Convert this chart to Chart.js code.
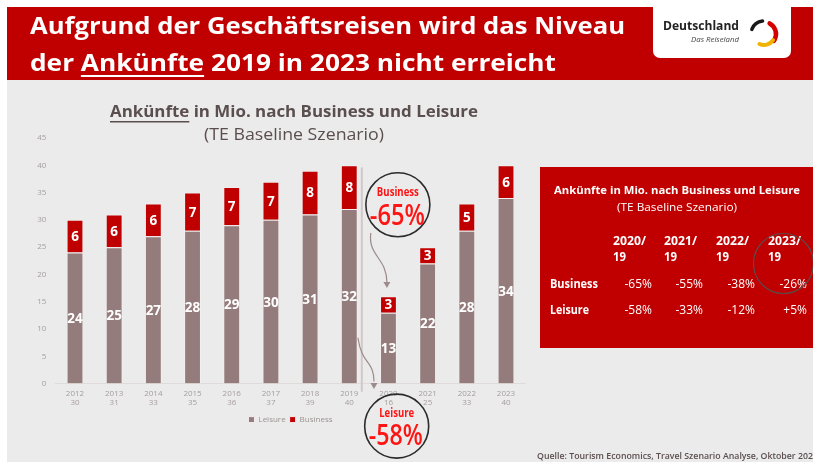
<!DOCTYPE html>
<html>
<head>
<meta charset="utf-8">
<script src="https://cdn.jsdelivr.net/npm/chart.js@4.4.0/dist/chart.umd.min.js"></script>
<style>
html, body { margin: 0; padding: 0; background: #fff; }
canvas { display: block; }
</style>
</head>
<body>
<canvas id="myChart" width="813" height="462"></canvas>
<script>
// données (Ankünfte in Mio.)
const years = ['2012','2013','2014','2015','2016','2017','2018','2019','2020','2021','2022','2023']
const totals = ['30','31','33','35','36','37','39','40','16','25','33','40']
const leisure = [24,25,27,28,29,30,31,32,13,22,28,34]
const business = [6,6,6,7,7,7,8,8,3,3,5,6]

// tableau de droite
const tableHeads = ['2020/','2021/','2022/','2023/']
const businessChange = ['-65%','-55%','-38%','-26%']
const leisureChange = ['-58%','-33%','-12%','+5%']

const F = '"Open Sans", "DejaVu Sans", sans-serif'
const RED = '#c00000'
const BRIGHT = '#ff1414'
const GREYTXT = '#5b4e4e'

Chart.defaults.font.family = F

//************ texte étiré à une largeur donnée (police Calibri absente) ************//
function fitText(ctx, s, x, y, w, align) {
    const m = ctx.measureText(s).width
    const k = w / m
    ctx.save()
    ctx.translate(x, y)
    ctx.scale(k, 1)
    ctx.textAlign = align || 'left'
    ctx.fillText(s, 0, 0)
    ctx.restore()
    return k
}

function circle(ctx, x, y, r, color, lw) {
    ctx.beginPath()
    ctx.arc(x, y, r, 0, Math.PI * 2)
    ctx.strokeStyle = color
    ctx.lineWidth = lw
    ctx.stroke()
}

function arrow(ctx, pts, color) {
    // pts : start, c1, c2, end, tip
    ctx.strokeStyle = color
    ctx.fillStyle = color
    ctx.lineWidth = 1.2
    ctx.beginPath()
    ctx.moveTo(pts[0][0], pts[0][1])
    ctx.bezierCurveTo(pts[1][0], pts[1][1], pts[2][0], pts[2][1], pts[3][0], pts[3][1])
    ctx.stroke()
    const tip = pts[4]
    ctx.beginPath()
    ctx.moveTo(tip[0], tip[1])
    ctx.lineTo(tip[0] - 3.5, tip[1] - 6)
    ctx.lineTo(tip[0] + 3.5, tip[1] - 6)
    ctx.closePath()
    ctx.fill()
}

//************ fond + bandeau ************//
const backgroundPlugin = {
    id: 'background',
    beforeDraw(chart) {
        const ctx = chart.ctx
        ctx.save()
        ctx.fillStyle = '#fff'
        ctx.fillRect(0, 0, chart.width, chart.height)
        ctx.fillStyle = '#ebebeb'
        ctx.fillRect(7, 80, 806, 382)
        ctx.fillStyle = RED
        ctx.fillRect(7, 7, 806, 73)
        ctx.restore()
    }
}

//************ valeurs dans les barres ************//
const barLabelsPlugin = {
    id: 'barLabels',
    afterDatasetsDraw(chart) {
        const ctx = chart.ctx
        ctx.save()
        ctx.font = 'bold 13.5px ' + F
        ctx.fillStyle = '#fff'
        ctx.textAlign = 'center'
        ctx.textBaseline = 'middle'
        chart.data.datasets.forEach((ds, i) => {
            chart.getDatasetMeta(i).data.forEach((bar, j) => {
                ctx.fillText(ds.data[j], bar.x, (bar.y + bar.base) / 2 + 1)
            })
        })
        ctx.restore()
    }
}

//************ titres, cercles, flèches, tableau ************//
const decorPlugin = {
    id: 'decor',
    afterDraw(chart) {
        const ctx = chart.ctx
        const xs = chart.scales.x
        const ys = chart.scales.y
        const P = (xv, yv) => [xs.getPixelForValue(xv), ys.getPixelForValue(yv)]
        ctx.save()
        ctx.textBaseline = 'alphabetic'

        // titre du bandeau
        ctx.fillStyle = '#fff'
        ctx.font = 'bold 24px ' + F
        fitText(ctx, 'Aufgrund der Geschäftsreisen wird das Niveau', 30, 34, 595)
        const l2 = 'der Ankünfte 2019 in 2023 nicht erreicht'
        const k2 = fitText(ctx, l2, 30, 71, 526)
        const u0 = 30 + ctx.measureText('der ').width * k2
        const u1 = u0 + ctx.measureText('Ankünfte').width * k2
        ctx.fillRect(u0, 75, u1 - u0, 2)

        // logo
        ctx.fillStyle = '#fff'
        ctx.beginPath()
        ctx.roundRect(653, 0, 138, 58, [0, 0, 7, 7])
        ctx.fill()
        ctx.fillStyle = '#222'
        ctx.font = 'bold 13px ' + F
        fitText(ctx, 'Deutschland', 663, 30, 76)
        ctx.fillStyle = '#444'
        ctx.font = 'italic 7px ' + F
        fitText(ctx, 'Das Reiseland', 739, 42, 48, 'right')
        ctx.lineCap = 'round'
        const sw = [[3.5, 4.6, '#1a1a1a', 3.5, 13], [5.2, 6.9, '#d40000', 4.5, 12], [0.6, 2.0, '#f0b400', 4, 11]]
        sw.forEach(a => {
            ctx.beginPath()
            ctx.arc(764, 34, a[4], a[0], a[1])
            ctx.strokeStyle = a[2]
            ctx.lineWidth = a[3]
            ctx.stroke()
        })
        ctx.lineCap = 'butt'

        // titre du graphique
        const cx = 294
        ctx.fillStyle = GREYTXT
        ctx.font = 'bold 16px ' + F
        const t1 = 'Ankünfte in Mio. nach Business und Leisure'
        const kt = fitText(ctx, t1, cx, 117, 368, 'center')
        const tl = cx - 184
        ctx.fillRect(tl, 121, ctx.measureText('Ankünfte').width * kt, 1.5)
        ctx.font = '17px ' + F
        fitText(ctx, '(TE Baseline Szenario)', cx, 140, 180, 'center')

        // séparateur 2019 / 2020
        const d0 = P(7.32, 39.6), d1 = P(7.32, -1.5)
        ctx.strokeStyle = '#d3c8c8'
        ctx.lineWidth = 2
        ctx.beginPath()
        ctx.moveTo(d0[0], d0[1])
        ctx.lineTo(d1[0], d1[1])
        ctx.stroke()

        // cercle Business
        const bc = P(8.24, 32.77)
        circle(ctx, bc[0], bc[1], 32, '#2b2b2b', 1.6)
        ctx.fillStyle = BRIGHT
        ctx.font = 'bold 12.5px ' + F
        fitText(ctx, 'Business', bc[0], P(0, 34.4)[1], 42, 'center')
        ctx.font = '600 28px ' + F
        fitText(ctx, '-65%', bc[0] - 0.5, P(0, 29.1)[1], 55, 'center')

        // cercle Leisure
        const lc = P(8.21, -7.8)
        circle(ctx, lc[0], lc[1], 32, '#2b2b2b', 1.6)
        ctx.fillStyle = BRIGHT
        ctx.font = 'bold 12.5px ' + F
        fitText(ctx, 'Leisure', lc[0], P(0, -6.1)[1], 35, 'center')
        ctx.font = '600 28px ' + F
        fitText(ctx, '-58%', lc[0] - 1, P(0, -11.3)[1], 54, 'center')

        // flèches
        arrow(ctx, [P(7.55, 27.6), P(7.47, 23.4), P(7.96, 23.0), P(7.96, 18.6), P(7.96, 17.5)], '#9d8b8b')
        arrow(ctx, [P(7.22, 8.4), P(7.32, 3.4), P(7.63, 4.3), P(7.63, 0.4), P(7.63, -1.0)], '#9d8b8b')

        // tableau de droite
        ctx.fillStyle = RED
        ctx.fillRect(540, 167, 273, 181)
        ctx.fillStyle = '#fff'
        ctx.font = 'bold 11px ' + F
        fitText(ctx, 'Ankünfte in Mio. nach Business und Leisure', 677, 194, 246, 'center')
        ctx.font = '11px ' + F
        fitText(ctx, '(TE Baseline Szenario)', 677, 211, 120, 'center')
        const colX = [613, 664, 716, 768]
        const valX = [652, 703, 755, 807]
        ctx.font = 'bold 12px ' + F
        tableHeads.forEach((h, i) => {
            fitText(ctx, h, colX[i], 245, 33)
            fitText(ctx, '19', colX[i], 261, 13)
        })
        fitText(ctx, 'Business', 550, 288, 48)
        fitText(ctx, 'Leisure', 550, 314, 39)
        ctx.font = '12px ' + F
        businessChange.forEach((v, i) => {
            ctx.textAlign = 'right'
            ctx.fillText(v, valX[i], 288)
        })
        leisureChange.forEach((v, i) => {
            ctx.textAlign = 'right'
            ctx.fillText(v, valX[i], 314)
        })
        circle(ctx, 783.5, 263.5, 30, '#5a4a4a', 1.2)

        // source
        ctx.fillStyle = GREYTXT
        ctx.font = '600 9px ' + F
        const src = 'Quelle: Tourism Economics, Travel Szenario Analyse, Oktober 2020'
        const ks = 276 / ctx.measureText(src.slice(0, -1)).width
        ctx.save()
        ctx.translate(537, 459)
        ctx.scale(ks, 1)
        ctx.textAlign = 'left'
        ctx.fillText(src, 0, 0)
        ctx.restore()

        ctx.restore()
    }
}

let ctx = document.getElementById('myChart')
let myChart = new Chart(ctx, {
    type: 'bar',
    data: {
        labels: years.map((y, i) => [y, totals[i]]),
        datasets: [
            {
                label: 'Leisure',
                data: leisure,
                backgroundColor: '#957c7c',
                borderColor: '#f3eeee',
                borderWidth: 1,
                barPercentage: 0.43,
                categoryPercentage: 1
            },
            {
                label: 'Business',
                data: business,
                backgroundColor: RED,
                borderColor: '#f3eeee',
                borderWidth: 1,
                barPercentage: 0.43,
                categoryPercentage: 1
            }
        ]
    },
    options: {
        responsive: false,
        animation: false,
        layout: { padding: { left: 7, top: 138, right: 287.4, bottom: 28.4 } },
        scales: {
            x: {
                stacked: true,
                grid: { display: false, drawTicks: false },
                border: { color: '#e0dbdb' },
                ticks: { color: '#a69e9e', font: { size: 8 }, padding: 5, maxRotation: 0 },
                afterFit(scale) { scale.height = 28 }
            },
            y: {
                stacked: true,
                min: 0,
                max: 45,
                grid: { display: false, drawTicks: false },
                border: { display: false },
                ticks: { stepSize: 5, color: '#a69e9e', font: { size: 8 }, padding: 9 },
                afterFit(scale) { scale.width = 48.4 }
            }
        },
        plugins: {
            legend: {
                position: 'bottom',
                fullSize: false,
                labels: { boxWidth: 6, boxHeight: 6, font: { size: 8 }, color: '#9a9292', padding: 4 }
            },
            tooltip: { enabled: false }
        }
    },
    plugins: [backgroundPlugin, barLabelsPlugin, decorPlugin]
})
</script>
</body>
</html>
